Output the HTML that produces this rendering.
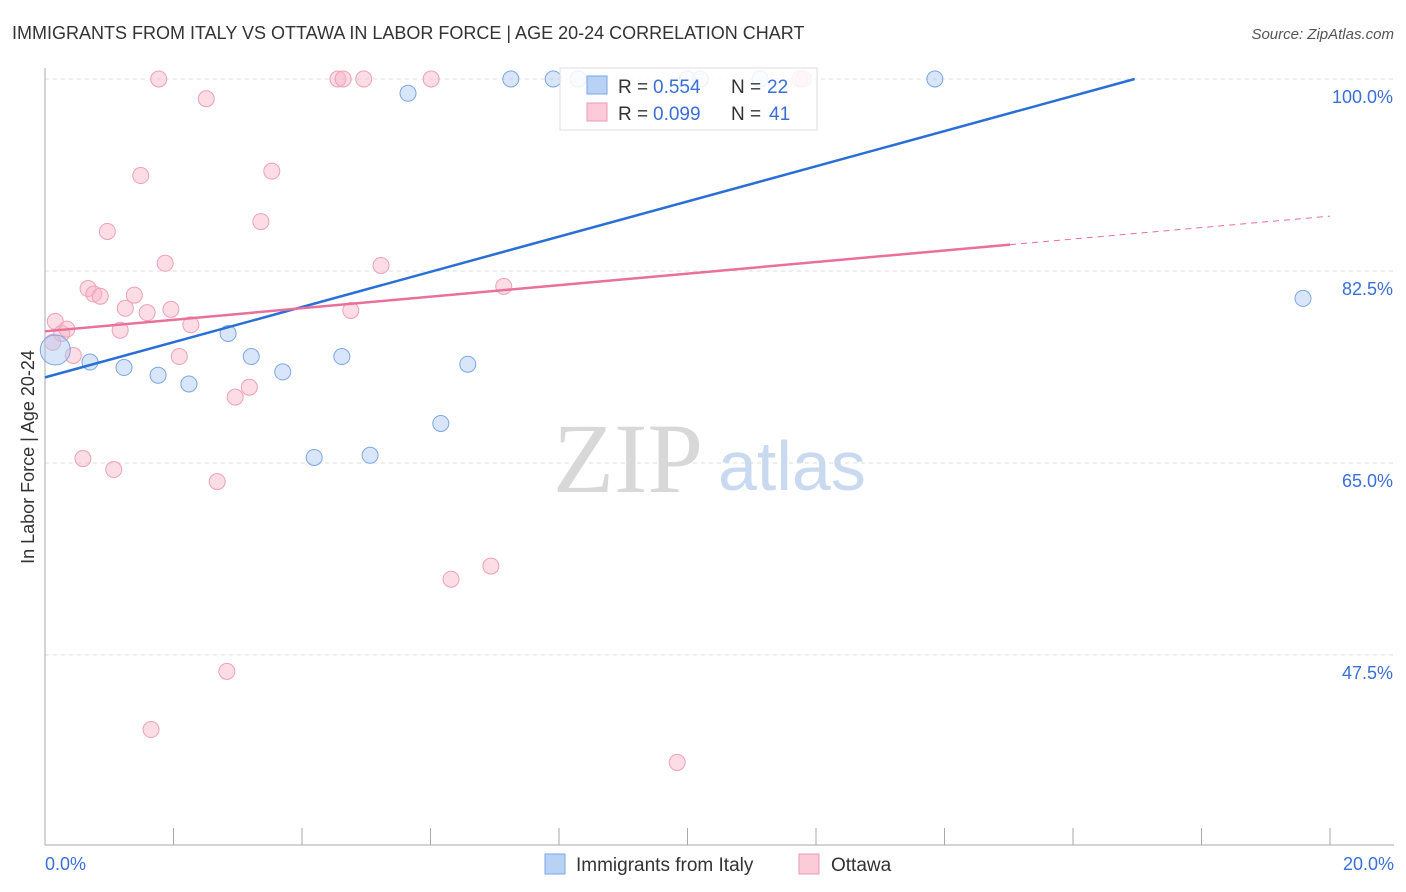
<!DOCTYPE html>
<html><head><meta charset="utf-8"><style>
body{margin:0;background:#fff;width:1406px;height:892px;overflow:hidden;font-family:"Liberation Sans",sans-serif}
svg{position:absolute;left:0;top:0}
</style></head><body>
<svg width="1406" height="892">
<text x="12" y="39" font-size="18" fill="#333">IMMIGRANTS FROM ITALY VS OTTAWA IN LABOR FORCE | AGE 20-24 CORRELATION CHART</text>
<text x="1394" y="39" font-size="15" fill="#555" font-style="italic" text-anchor="end">Source: ZipAtlas.com</text>
<g id="grid"></g>
<g><text x="553" y="492" font-size="100" fill="#d8d8d8" font-family="Liberation Serif,serif">ZIP</text><text x="718" y="490" font-size="70" fill="#c9daf0">atlas</text></g>
<g id="marks"></g>
<text transform="translate(34,457) rotate(-90)" font-size="18" fill="#333" text-anchor="middle">In Labor Force | Age 20-24</text>
<text x="45" y="870" font-size="18" fill="#3a6fd8">0.0%</text>
<text x="1394" y="870" font-size="18" fill="#3a6fd8" text-anchor="end">20.0%</text>
<g>
<rect x="560" y="68" width="257" height="62" fill="#fff" fill-opacity="0.85" stroke="#ddd"/>
<rect x="587" y="76" width="20" height="18" fill="#b8d2f5" stroke="#7aa6e6"/>
<rect x="587" y="103" width="20" height="18" fill="#fbcbd9" stroke="#ee9ab4"/>
<text x="618" y="93" font-size="19" fill="#333">R =</text><text x="653" y="93" font-size="19" fill="#3a6fd8">0.554</text>
<text x="731" y="93" font-size="19" fill="#333">N =</text><text x="767" y="93" font-size="19" fill="#3a6fd8">22</text>
<text x="618" y="120" font-size="19" fill="#333">R =</text><text x="653" y="120" font-size="19" fill="#3a6fd8">0.099</text>
<text x="731" y="120" font-size="19" fill="#333">N =</text><text x="769" y="120" font-size="19" fill="#3a6fd8">41</text>
</g>
<g>
<rect x="545" y="854" width="20" height="20" fill="#b8d2f5" stroke="#7aa6e6"/>
<text x="576" y="871" font-size="19" fill="#333">Immigrants from Italy</text>
<rect x="799" y="854" width="20" height="20" fill="#fbcbd9" stroke="#ee9ab4"/>
<text x="831" y="871" font-size="19" fill="#333">Ottawa</text>
</g>
</svg>
<script>
const yTicks=[100,82.5,65,47.5];
const yTickLabels=["100.0%","82.5%","65.0%","47.5%"];
const blueX=[0.16,0.70,1.23,1.76,2.24,2.85,3.21,3.70,4.19,4.62,5.06,5.65,6.16,6.58,7.25,7.91,8.30,10.0,10.2,11.13,13.85,19.58];
const blueY=[75.3,74.2,73.7,73.0,72.2,76.8,74.7,73.3,65.5,74.7,65.7,98.7,68.6,74.0,100,100,100,100,100,100,100,80.0];
const pinkX=[0.12,0.16,0.26,0.34,0.44,0.59,0.67,0.76,0.86,0.97,1.07,1.17,1.25,1.39,1.49,1.59,1.65,1.77,1.87,1.96,2.09,2.27,2.51,2.68,2.83,2.96,3.18,3.36,3.53,4.56,4.64,4.76,4.96,5.23,6.01,6.32,6.94,7.14,9.84,11.75,11.8];
const pinkY=[76.0,77.9,76.8,77.2,74.8,65.4,80.9,80.4,80.2,86.1,64.4,77.1,79.1,80.3,91.2,78.7,40.7,100,83.2,79.0,74.7,77.6,98.2,63.3,46.0,71.0,71.9,87.0,91.6,100,100,78.9,100,83.0,100,54.4,55.6,81.1,37.7,100,100];
const blueLine=[[0,72.8],[16.96,100]];
const pinkLine=[[0,77.0],[15.02,84.9]];
const pinkDash=[[15.02,84.9],[20,87.5]];
const NS="http://www.w3.org/2000/svg";
const X=v=>45+v*64.25, Y=v=>79+(100-v)*10.97;
function mk(t,a,p){const e=document.createElementNS(NS,t);for(const k in a)e.setAttribute(k,a[k]);p.appendChild(e);return e;}
const g=document.getElementById('grid'),m=document.getElementById('marks');
yTicks.forEach((t,i)=>{
 const l=mk('line',{x1:45,x2:1394,y1:Y(t),y2:Y(t),stroke:'#ddd','stroke-dasharray':'4,4'},g);
 
 
 const tx=mk('text',{x:1393,y:Y(t)+24,'font-size':18,fill:'#3a6fd8','text-anchor':'end'},g);
 tx.textContent=yTickLabels[i];
 
 
});
const ax=mk('line',{x1:45,x2:45,y1:68,y2:845,stroke:'#aaa'},g);


const bx=mk('line',{x1:45,x2:1394,y1:845,y2:845,stroke:'#aaa'},g);


for(let i=0;i<=10;i++){const t=mk('line',{x1:X(i*2),x2:X(i*2),y1:828,y2:845,stroke:'#aaa'},g);
 
 }
pinkX.forEach((v,i)=>{const c=mk('circle',{cx:X(v),cy:Y(pinkY[i]),r:8,fill:'rgba(248,180,200,0.45)',stroke:'#eea0b8','stroke-width':1},m);
 
 });
blueX.forEach((v,i)=>{const c=mk('circle',{cx:X(v),cy:Y(blueY[i]),r:i==0?15:8,fill:'rgba(170,200,245,0.45)',stroke:'#7aa6e6','stroke-width':1},m);
 
 });
const bl=mk('line',{x1:X(blueLine[0][0]),y1:Y(blueLine[0][1]),x2:X(blueLine[1][0]),y2:Y(blueLine[1][1]),stroke:'#2a6fd6','stroke-width':2.5},m);


const pl=mk('line',{x1:X(pinkLine[0][0]),y1:Y(pinkLine[0][1]),x2:X(pinkLine[1][0]),y2:Y(pinkLine[1][1]),stroke:'#e8709a','stroke-width':2.5},m);


const pd=mk('line',{x1:X(pinkDash[0][0]),y1:Y(pinkDash[0][1]),x2:X(pinkDash[1][0]),y2:Y(pinkDash[1][1]),stroke:'#e8709a','stroke-width':1,'stroke-dasharray':'6,5'},m);


</script>
</body></html>
